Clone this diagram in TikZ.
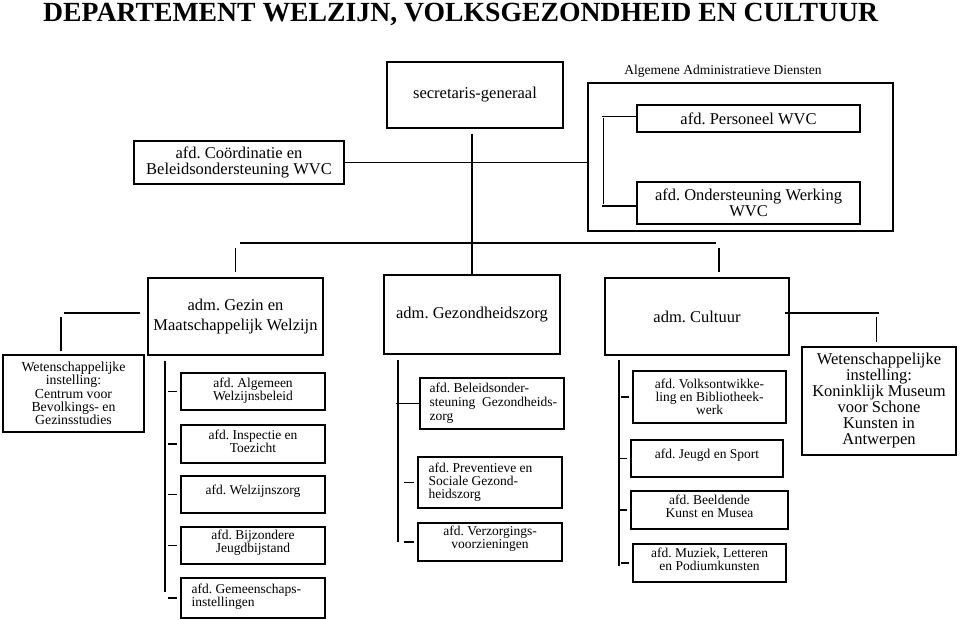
\documentclass[tikz,border=0pt]{standalone}
\usepackage{fontspec}
\setmainfont{Liberation Serif}
\usetikzlibrary{calc}
\newcommand\fsz[2]{\fontsize{#1}{#2}\selectfont\frenchspacing}
\begin{document}
\frenchspacing
\begin{tikzpicture}[x=1pt,y=-1pt,
  bx/.style={draw, line width=1.2pt, inner sep=0pt, align=center},
  big/.style={font=\fsz{16.5}{20}},
  small/.style={font=\fsz{13.5}{13}},
  ln/.style={line width=1.3pt},
  txt/.style={inner sep=0pt, align=center, font=\fsz{13.5}{13}},
  ltxt/.style={inner sep=0pt, align=left, anchor=west, font=\fsz{13.5}{13}},
]
\useasboundingbox[fill=white] (0,0) rectangle (960,620);
\node[anchor=base west, inner sep=0pt, font=\fsz{27.7}{30}\bfseries] (title) at (43,22) {DEPARTEMENT WELZIJN, VOLKSGEZONDHEID EN CULTUUR};

% top level
\node[bx,big,minimum width=176pt,minimum height=66pt] (sec) at (475,95) {secretaris-generaal};
\node[txt] (aadlab) at (723,71) {Algemene Administratieve Diensten};
\node[bx,minimum width=305pt,minimum height=148pt] (aad) at (740.5,157) {};
\node[bx,big,minimum width=223pt,minimum height=27pt] (pers) at (748.5,118.5) {afd. Personeel WVC};
\node[bx,font=\fsz{16.5}{16},minimum width=223pt,minimum height=42pt] (onder) at (748.5,203) {afd. Ondersteuning Werking\\WVC};
\node[bx,font=\fsz{16.5}{16},minimum width=210pt,minimum height=43pt] (coord) at (239,162.5) {afd. Coördinatie en\\Beleidsondersteuning WVC};

% administrations
\node[bx,big,minimum width=175pt,minimum height=77pt] (gezin) at (235.5,316.5) {adm. Gezin en\\Maatschappelijk Welzijn};
\node[bx,big,minimum width=176pt,minimum height=79pt] (gezond) at (472,314.5) {adm. Gezondheidszorg};
\node[bx,big,minimum width=184pt,minimum height=77pt] (cult) at (697,316.5) {adm. Cultuur};

% scientific institutions
\node[bx,font=\fsz{13.8}{13.3},minimum width=141pt,minimum height=77pt] (wetL) at (73.5,393.5) {Wetenschappelijke\\instelling:\\Centrum voor\\Bevolkings- en\\Gezinsstudies};
\node[bx,font=\fsz{16.5}{16},minimum width=154pt,minimum height=108pt] (wetR) at (879,401) {Wetenschappelijke\\instelling:\\Koninklijk Museum\\voor Schone\\Kunsten in\\Antwerpen};

% Gezin departments
\node[bx,minimum width=144pt,minimum height=37pt,label={[txt,name=algT,yshift=1pt]center:{afd. Algemeen\\Welzijnsbeleid}}] (alg) at (253,391.5) {};
\node[bx,minimum width=144pt,minimum height=38pt,label={[txt,name=inspT,yshift=3pt]center:{afd. Inspectie en\\Toezicht}}] (insp) at (253,444) {};
\node[bx,minimum width=144pt,minimum height=37pt,label={[txt,name=welzT,yshift=3pt]center:{afd. Welzijnszorg}}] (welz) at (253,494.5) {};
\node[bx,minimum width=144pt,minimum height=37pt,label={[txt,name=bijzT,yshift=3pt]center:{afd. Bijzondere\\Jeugdbijstand}}] (bijz) at (253,545.5) {};
\node[bx,minimum width=144pt,minimum height=40pt,label={[ltxt,name=gemT,xshift=11pt,yshift=1.5pt]west:{afd. Gemeenschaps-\\instellingen}}] (gem) at (253,598) {};

% Gezondheid departments
\node[bx,minimum width=144pt,minimum height=51pt,label={[ltxt,font=\fsz{13.5}{14},name=belT,xshift=10pt]west:{afd. Beleidsonder-\\steuning\ \ Gezondheids-\\zorg}}] (bel) at (492,403.5) {};
\node[bx,minimum width=144pt,minimum height=51pt,label={[ltxt,name=prevT,xshift=11pt]west:{afd. Preventieve en\\Sociale Gezond-\\heidszorg}}] (prev) at (490,482.5) {};
\node[bx,minimum width=144pt,minimum height=38pt,label={[txt,name=verzT,yshift=3pt]center:{afd. Verzorgings-\\voorzieningen}}] (verz) at (490,542) {};

% Cultuur departments
\node[bx,small,minimum width=153pt,minimum height=52pt] (volk) at (709.5,397) {afd. Volksontwikke-\\ling en Bibliotheek-\\werk};
\node[bx,minimum width=152pt,minimum height=37pt,label={[txt,name=jeugdT,yshift=3pt]center:{afd. Jeugd en Sport}}] (jeugd) at (707,458.5) {};
\node[bx,minimum width=157pt,minimum height=38pt,label={[txt,name=beeldT,yshift=4pt]center:{afd. Beeldende\\Kunst en Musea}}] (beeld) at (709.5,510) {};
\node[bx,minimum width=153pt,minimum height=38pt,label={[txt,name=muzT,yshift=4pt]center:{afd. Muziek, Letteren\\en Podiumkunsten}}] (muz) at (709.5,563) {};

% connectors: top
\draw[ln] ([yshift=-5pt]sec.south -| gezond.north) -- (gezond.north);
\draw[ln] (coord.east) -- (coord.east -| aad.west);
\coordinate (busL) at (240,243);
\coordinate (busR) at (716,243);
\draw[ln] (busL) -- (busR);
\draw[ln] ([yshift=-5pt]busL -| gezin.north) -- ([yshift=5pt]gezin.north);
\coordinate (cultS) at (719,248);
\draw[ln] (cultS) -- ($(cultS |- cult.north)+(0,-5)$);

% bracket inside Algemene Administratieve Diensten
\draw[ln] ([xshift=-34pt,yshift=2pt]pers.west) -- ([yshift=2pt]pers.west);
\draw[ln] ([xshift=-34pt,yshift=-3pt]onder.west) -- ([yshift=-3pt]onder.west);
\draw[ln] ([xshift=-33pt,yshift=0pt]pers.west) -- ([xshift=-33pt,yshift=-1pt]onder.west);

% to scientific institutions
\coordinate (gwA) at (140,313);
\coordinate (gwB) at (64,313);
\coordinate (gwC) at (61,317);
\draw[ln] (gwA) -- (gwB);
\draw[ln] (gwC) -- ($(gwC |- wetL.north)+(0,-3)$);
\coordinate (cwA) at (785,313);
\coordinate (cwB) at (879,313);
\coordinate (cwC) at (876.5,317);
\draw[ln] (cwA) -- (cwB);
\draw[ln] (cwC) -- ($(cwC |- wetR.north)+(0,-4)$);

% Gezin trunk
\coordinate (gzT) at (165,361);
\coordinate (gzB) at (165,592);
\draw[ln] (gzT) -- (gzB);
\foreach \n in {alg,insp,welz,bijz,gem}
  \draw[ln] ([xshift=-12pt]\n.west) -- ([xshift=-3pt]\n.west);

% Gezondheid trunk
\coordinate (gdT) at (398,360);
\coordinate (gdB) at (398,542);
\draw[ln] (gdT) -- (gdB);
\draw[ln] ([xshift=-23pt]bel.west) -- (bel.west);
\foreach \n in {prev,verz}
  \draw[ln] ([xshift=-13pt]\n.west) -- ([xshift=-3pt]\n.west);

% Cultuur trunk
\coordinate (cuT) at (619,360);
\coordinate (cuB) at (619,566);
\draw[ln] (cuT) -- (cuB);
\foreach \n in {volk,jeugd,beeld,muz}
  \draw[ln] ([xshift=-11pt]\n.west) -- ([xshift=-3pt]\n.west);
\end{tikzpicture}
\end{document}
